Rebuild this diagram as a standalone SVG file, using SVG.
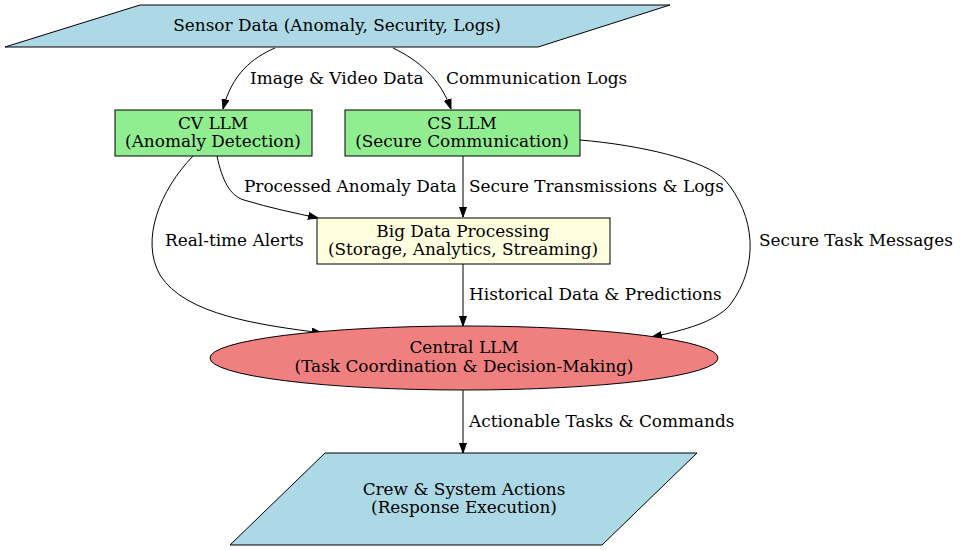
<svg xmlns="http://www.w3.org/2000/svg" width="960" height="550" viewBox="0 0 960 550">
<style>
text{font-family:"DejaVu Serif","Liberation Serif",serif;font-size:16.9px;fill:#000;text-anchor:middle}
.lbl{text-anchor:start}
.n{stroke:#000;stroke-width:1}
.e{fill:none;stroke:#000;stroke-width:1;marker-end:url(#ah)}
</style>
<defs>
<marker id="ah" markerUnits="userSpaceOnUse" markerWidth="10" markerHeight="8" refX="10" refY="4" orient="auto">
<path d="M0,0.5 L10,4 L0,7.5 z" fill="#000" stroke="#000" stroke-width="1"/>
</marker>
</defs>
<rect width="960" height="550" fill="#fff"/>
<g id="edges">
<path class="e" d="M275,48 C252,58 232,74 223,109"/>
<text class="lbl" x="250" y="84">Image &amp; Video Data</text>
<path class="e" d="M393,48 C418,60 440,78 451,109"/>
<text class="lbl" x="446" y="84">Communication Logs</text>
<path class="e" d="M217,156 C222,180 230,196 244,200 C270,208 295,213 318,218"/>
<text class="lbl" x="244" y="192">Processed Anomaly Data</text>
<path class="e" d="M463,156 L463,217"/>
<text class="lbl" x="469" y="192">Secure Transmissions &amp; Logs</text>
<path class="e" d="M193,156 C160,190 140,240 160,275 C185,315 260,325 322,333"/>
<text class="lbl" x="165" y="246">Real-time Alerts</text>
<path class="e" d="M580,140 C640,145 705,160 725,180 C755,215 760,265 730,305 C715,322 685,330 652,337"/>
<text class="lbl" x="759" y="246">Secure Task Messages</text>
<path class="e" d="M463,264 L463,326"/>
<text class="lbl" x="469" y="300">Historical Data &amp; Predictions</text>
<path class="e" d="M463,390 L463,453"/>
<text class="lbl" x="469" y="427">Actionable Tasks &amp; Commands</text>
</g>
<g id="sensor">
<polygon class="n" points="140,5 670,5 538,47 5,47" fill="#add8e6"/>
<text x="337" y="31">Sensor Data (Anomaly, Security, Logs)</text>
</g>
<g id="cv">
<rect class="n" x="115" y="110" width="197" height="46" fill="#90ee90"/>
<text x="213" y="129">CV LLM</text>
<text x="213" y="147">(Anomaly Detection)</text>
</g>
<g id="cs">
<rect class="n" x="345" y="110" width="235" height="46" fill="#90ee90"/>
<text x="462" y="129">CS LLM</text>
<text x="462" y="147">(Secure Communication)</text>
</g>
<g id="bigdata">
<rect class="n" x="317" y="218" width="293" height="46" fill="#ffffe0"/>
<text x="463" y="237">Big Data Processing</text>
<text x="463" y="255">(Storage, Analytics, Streaming)</text>
</g>
<g id="central">
<ellipse class="n" cx="464" cy="358" rx="254" ry="32" fill="#f08080"/>
<text x="464" y="353">Central LLM</text>
<text x="464" y="372">(Task Coordination &amp; Decision-Making)</text>
</g>
<g id="crew">
<polygon class="n" points="325,453 697,453 602,545 230,545" fill="#add8e6"/>
<text x="464" y="495">Crew &amp; System Actions</text>
<text x="464" y="513">(Response Execution)</text>
</g>
</svg>
